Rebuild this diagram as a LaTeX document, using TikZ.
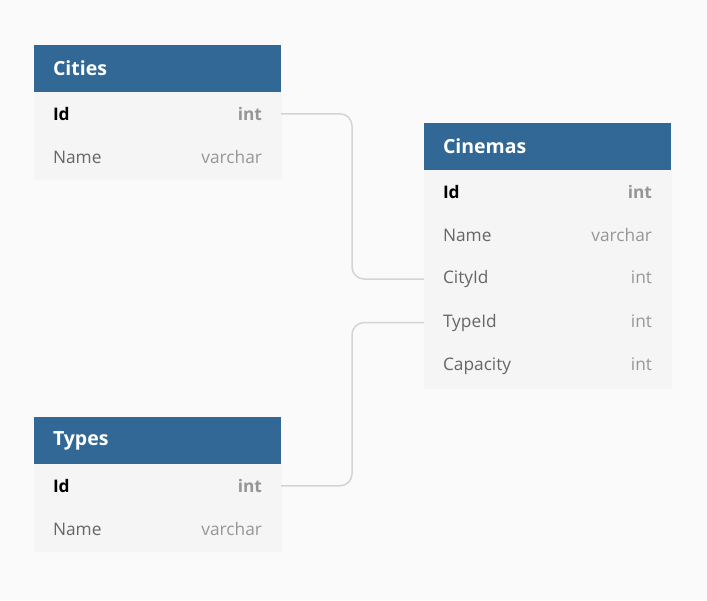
\documentclass[tikz,border=0pt]{standalone}
\usepackage{fontspec}
\setmainfont{Open Sans}
\usetikzlibrary{positioning}
\usepackage{xcolor}
\definecolor{pagegray}{HTML}{FAFAFA}
\definecolor{headblue}{HTML}{316895}
\definecolor{rowgray}{HTML}{F5F5F5}
\definecolor{namegray}{HTML}{666666}
\definecolor{typegray}{HTML}{969696}
\definecolor{linkgray}{HTML}{D4D4D4}

\begin{document}
\begin{tikzpicture}[
    x=1pt, y=-1pt,
    node distance=0pt,
    every node/.style={
        inner ysep=0pt,
        inner xsep=19pt,
        outer sep=0pt,
        text width=209pt,
        minimum height=43.6pt,
        font=\fontsize{17.3}{20}\selectfont
    },
    header/.style={fill=headblue, text=white,
        minimum height=47pt, font=\fontsize{19.5}{22}\selectfont\bfseries},
    field/.style={fill=rowgray, draw=rowgray, line width=0.6pt, text=namegray},
    keyfield/.style={field, text=black, font=\fontsize{17.3}{20}\selectfont\bfseries},
    link/.style={draw=linkgray, line width=1.5pt, rounded corners=12pt}
]

\fill[pagegray] (0,0) rectangle (707,600);
\useasboundingbox (0,0) rectangle (707,600);

% Cities
\node[header, anchor=north west] (cities) at (34,45) {Cities};
\node[keyfield] (citiesid) [below=of cities] {Id\hfill\textcolor{typegray}{int}};
\node[field] (citiesname) [below=of citiesid] {Name\hfill\textcolor{typegray}{varchar}};

% Cinemas
\node[header, anchor=north west] (cinemas) at (424,123) {Cinemas};
\node[keyfield] (cinemasid) [below=of cinemas] {Id\hfill\textcolor{typegray}{int}};
\node[field] (cinemasname) [below=of cinemasid] {Name\hfill\textcolor{typegray}{varchar}};
\node[field] (cinemascity) [below=of cinemasname] {CityId\hfill\textcolor{typegray}{int}};
\node[field] (cinemastype) [below=of cinemascity] {TypeId\hfill\textcolor{typegray}{int}};
\node[field] (cinemascap) [below=of cinemastype] {Capacity\hfill\textcolor{typegray}{int}};

% Types
\node[header, anchor=north west] (types) at (34,417) {Types};
\node[keyfield] (typesid) [below=of types] {Id\hfill\textcolor{typegray}{int}};
\node[field] (typesname) [below=of typesid] {Name\hfill\textcolor{typegray}{varchar}};

\draw[link] (citiesid.east) -- ++(71,0) |- (cinemascity.west);
\draw[link] (typesid.east) -- ++(71,0) |- (cinemastype.west);

\end{tikzpicture}
\end{document}
